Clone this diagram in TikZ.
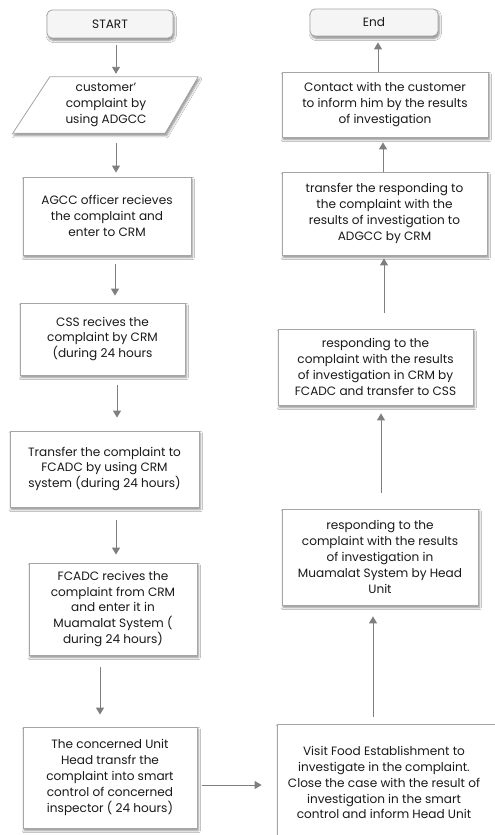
\documentclass[tikz,border=0pt]{standalone}
\usepackage{fontspec}
\setmainfont{Poppins}
\usetikzlibrary{arrows.meta,shadows.blur}
\definecolor{bordergray}{HTML}{A6A6A6}
\definecolor{arrowgray}{HTML}{7F7F7F}
\definecolor{textgray}{HTML}{1A1A1A}
\begin{document}
\begin{tikzpicture}[x=1pt,y=1pt,
  font=\fontsize{12.1}{15.8}\selectfont, text=textgray,
  procbox/.style={draw=bordergray, line width=0.8pt, fill=white, align=center,
    inner sep=0pt, blur shadow={shadow xshift=1.2pt, shadow yshift=-2.5pt, shadow blur steps=5, shadow opacity=45}},
  termbox/.style={procbox, rounded corners=5pt, fill=black!4},
  arr/.style={draw=arrowgray, line width=0.9pt, -{Triangle[width=8pt,length=7pt]}}]
\useasboundingbox (0,0) rectangle (495,-835);
\clip (0,0) rectangle (495,-835);
\fill[white] (0,0) rectangle (495,-835);
% left column
\node[termbox, minimum width=126, minimum height=28] (start) at (110,-24) {START};
\node[minimum width=150, minimum height=56, inner sep=0pt, align=center] (para) at (106,-105) {};
\draw[draw=bordergray, line width=0.8pt, fill=white, blur shadow={shadow xshift=1.2pt, shadow yshift=-2.5pt, shadow blur steps=5, shadow opacity=45}]
  ([xshift=-18pt]para.south west) -- ([xshift=19pt]para.north west) -- ([xshift=17pt]para.north east) -- ([xshift=-16pt]para.south east) -- cycle;
\node[align=center] (paratext) at (para) {customer'\\complaint by\\using ADGCC};
\node[procbox, minimum width=168, minimum height=78] (agcc) at (107,-216) {AGCC officer recieves\\the complaint and\\enter to CRM};
\node[procbox, minimum width=165, minimum height=72] (css) at (102.5,-339) {CSS recives the\\complaint by CRM\\(during 24 hours};
\node[procbox, minimum width=189, minimum height=76] (trans) at (104.5,-469) {Transfer the complaint to\\FCADC by using CRM\\system (during 24 hours)};
\node[procbox, minimum width=168, minimum height=92] (fcadc) at (113,-609) {FCADC recives the\\complaint from CRM\\and enter it in\\Muamalat System (\\during 24 hours)};
\node[procbox, minimum width=174, minimum height=101] (unit) at (110,-777.5) {The concerned Unit\\Head transfr the\\complaint into smart\\control of concerned\\inspector ( 24 hours)};
% right column
\node[procbox, minimum width=228, minimum height=126] (visit) at (391,-787) {};
\node[align=center, anchor=north] (visittext) at (384,-743) {Visit Food Establishment to\\investigate in the complaint.\\Close the case with the result of\\investigation in the smart\\control and inform Head Unit};
\node[procbox, minimum width=196, minimum height=96] (muam) at (380,-557) {responding to the\\complaint with the results\\of investigation in\\Muamalat System by Head\\Unit};
\node[procbox, minimum width=195, minimum height=76] (crm) at (375.5,-367) {responding to the\\complaint with the results\\of investigation in CRM by\\FCADC and transfer to CSS};
\node[procbox, minimum width=205, minimum height=83] (tresp) at (384.5,-213.5) {transfer the responding to\\the complaint with the\\results of investigation to\\ADGCC by CRM};
\node[procbox, minimum width=206, minimum height=65] (contact) at (385,-104.5) {Contact with the customer\\to inform him by the results\\of investigation};
\node[termbox, minimum width=128, minimum height=27] (end) at (374,-22.5) {End};
% connectors
\draw[arr] ([xshift=6pt,yshift=-7pt]start.south) -- ([xshift=10pt,yshift=3pt]para.north);
\draw[arr] ([xshift=10pt,yshift=-10pt]para.south) -- ([xshift=9pt,yshift=4pt]agcc.north);
\draw[arr] ([xshift=8pt,yshift=-9pt]agcc.south) -- ([xshift=12.5pt,yshift=7pt]css.north);
\draw[arr] ([xshift=14.5pt,yshift=-10pt]css.south) -- ([xshift=12.5pt,yshift=13pt]trans.north);
\draw[arr] ([xshift=11.5pt,yshift=-13pt]trans.south) -- ([xshift=3pt,yshift=8pt]fcadc.north);
\draw[arr] ([xshift=-13pt,yshift=-12pt]fcadc.south) -- ([xshift=-10pt,yshift=12pt]unit.north);
\draw[arr] ([xshift=5pt,yshift=-7.5pt]unit.east) -- ([xshift=-15pt,yshift=2pt]visit.west);
\draw[arr] ([xshift=-18pt,yshift=7pt]visit.north) -- ([xshift=-7pt,yshift=-11pt]muam.south);
\draw[arr] ([xshift=1pt,yshift=16pt]muam.north) -- ([xshift=5.5pt,yshift=-8pt]crm.south);
\draw[arr] ([xshift=8.5pt,yshift=16pt]crm.north) -- ([xshift=-0.5pt,yshift=-3pt]tresp.south);
\draw[arr] ([xshift=-1.5pt]tresp.north) -- ([xshift=-2pt,yshift=-5pt]contact.south);
\draw[arr] ([xshift=-7pt]contact.north) -- ([xshift=4pt,yshift=-6pt]end.south);
\end{tikzpicture}
\end{document}
